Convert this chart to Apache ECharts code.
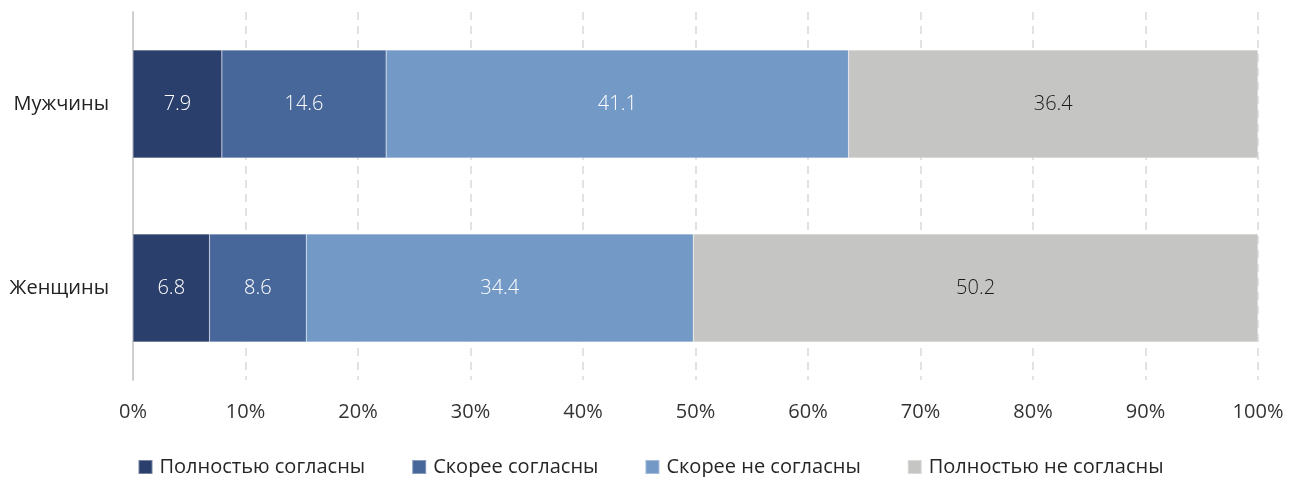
<!DOCTYPE html>
<html>
<head>
<meta charset="utf-8">
<script src="https://cdn.jsdelivr.net/npm/echarts@6/dist/echarts.min.js"></script>
<style>
  html, body { margin: 0; padding: 0; background: #fff; }
  #chart { width: 1301px; height: 477px; }
</style>
</head>
<body>
<div id="chart"></div>
<script>
// Data
const categories = ["Мужчины", "Женщины"];
const seriesNames = ["Полностью согласны", "Скорее согласны", "Скорее не согласны", "Полностью не согласны"];
const fullyAgree = [7.9, 6.8];
const ratherAgree = [14.6, 8.6];
const ratherDisagree = [41.1, 34.4];
const fullyDisagree = [36.4, 50.2];
const xTicks = [0, 10, 20, 30, 40, 50, 60, 70, 80, 90, 100];

const colors = ["#2b3f6d", "#47679a", "#7399c6", "#c5c6c3"];
const labelColors = ["#ffffff", "#ffffff", "#ffffff", "#1a1a1a"];
const FONT = "'Open Sans', sans-serif";

const chart = echarts.init(document.getElementById("chart"));

const values = [fullyAgree, ratherAgree, ratherDisagree, fullyDisagree];
const series = values.map(function (arr, i) {
  return {
    name: seriesNames[i],
    type: "bar",
    stack: "total",
    barWidth: 108,
    data: arr,
    itemStyle: { color: colors[i], borderColor: "rgba(255,255,255,0.35)", borderWidth: 0.5 },
    label: {
      show: true,
      position: "inside",
      color: labelColors[i],
      fontSize: 20,
      fontFamily: FONT,
      fontWeight: 300,
      formatter: function (p) { return p.value.toFixed(1); },
    },
  };
});

chart.setOption({
  animation: false,
  color: colors,
  grid: { left: 133, right: 43, top: 12, bottom: 97, containLabel: false },
  legend: {
    top: 452,
    left: "center",
    itemWidth: 14,
    itemHeight: 14,
    itemGap: 46,
    icon: "rect",
    textStyle: { fontSize: 20, fontFamily: FONT, color: "#262626", padding: [0, 0, 0, 2] },
    data: seriesNames,
  },
  xAxis: {
    type: "value",
    min: xTicks[0],
    max: xTicks[xTicks.length - 1],
    interval: 10,
    axisLine: { show: false },
    axisTick: { show: false },
    axisLabel: {
      formatter: "{value}%",
      fontSize: 20,
      fontFamily: FONT,
      color: "#333",
      margin: 22,
    },
    splitLine: { show: true, lineStyle: { color: "#d9d9d9", type: [8, 6], width: 1.5 } },
  },
  yAxis: {
    type: "category",
    inverse: true,
    data: categories,
    axisLine: { show: true, lineStyle: { color: "#d0d0d0", width: 2 } },
    axisTick: { show: false },
    axisLabel: { fontSize: 20, fontFamily: FONT, color: "#222", margin: 24 },
  },
  series: series,
});
</script>
</body>
</html>
